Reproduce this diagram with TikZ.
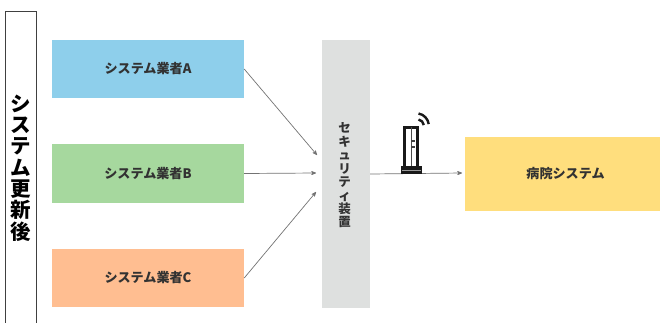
\documentclass[tikz,border=0pt]{standalone}
\usepackage{fontspec}
\setmainfont{Noto Sans CJK JP}
\usetikzlibrary{arrows.meta}
\usetikzlibrary{arrows}

\definecolor{lblue}{RGB}{142,207,235}
\definecolor{lgreen}{RGB}{166,216,158}
\definecolor{lorange}{RGB}{255,190,145}
\definecolor{lyellow}{RGB}{255,222,125}
\definecolor{lgray}{RGB}{222,224,223}
\definecolor{dtext}{RGB}{50,50,50}
\definecolor{midgray}{RGB}{115,115,115}

\tikzset{
  vendor/.style={minimum width=192pt,minimum height=58pt,inner sep=0pt,text=dtext,font=\fontsize{13.1}{15}\selectfont\bfseries},
  link/.style={->,>=stealth',midgray,line width=.7pt}
}

\begin{document}
\begin{tikzpicture}[x=1pt,y=-1pt]

\useasboundingbox (0,0) rectangle (660,322);

\node[draw=black!75,line width=.9pt,minimum width=30.5pt,minimum height=312pt,inner sep=0pt] (title) at (20.75,167) {};
\node[inner sep=0pt,align=center,font=\fontsize{20.5}{21.3}\selectfont\bfseries] (titlelabel) at (21,168) {シ\\ス\\テ\\ム\\更\\新\\後};

\node[vendor,fill=lblue] (va) at (148,69) {システム業者A};
\node[vendor,fill=lgreen,minimum height=59pt] (vb) at (148,173.5) {システム業者B};
\node[vendor,fill=lorange] (vc) at (148,278) {システム業者C};

\node[fill=lgray,minimum width=48pt,minimum height=268pt,inner sep=0pt] (sec) at (346,174) {};
\node[inner sep=0pt,align=center,text=dtext,font=\fontsize{12.5}{13.4}\selectfont\bfseries] (seclabel) at (344.5,175.5) {セ\\キ\\ュ\\リ\\テ\\ィ\\装\\置};
\node[fill=lyellow,minimum width=195pt,minimum height=74pt,inner sep=0pt] (hs) at (562.5,174) {};
\node[text=dtext,font=\fontsize{13.1}{15}\selectfont\bfseries,inner sep=0pt] (hslabel) at (565.5,174) {病院システム};

\coordinate (ea) at (317,155);
\coordinate (eb) at (316,173);
\coordinate (ec) at (316,192);
\coordinate (eh) at (462,173);

\draw[link] (va.east) -- (ea);
\draw[link] (vb.east) -- (eb);
\draw[link] (vc.east) -- (ec);
\draw[link] (sec.east) -- (eh);

% router
\draw[line width=2.4pt,black!90] (404.5,127.5) rectangle (417.5,168);
\draw[line width=1pt,black!70] (411,127) -- (411,168);
\draw[line width=1.3pt,black!75] (411,141) -- (415,141);
\draw[line width=1.3pt,black!75] (411,147) -- (415,147);
\fill[black!90] (401,166) rectangle (422,174);
\draw[white!60!black,line width=.7pt] (402,170) -- (421,170);
\draw[line width=2.4pt,black!90] (418.5,113.5) arc (-80:-8:12.5);
\draw[line width=2.4pt,black!90] (418.5,119.5) arc (-80:-8:6.5);

\end{tikzpicture}
\end{document}
